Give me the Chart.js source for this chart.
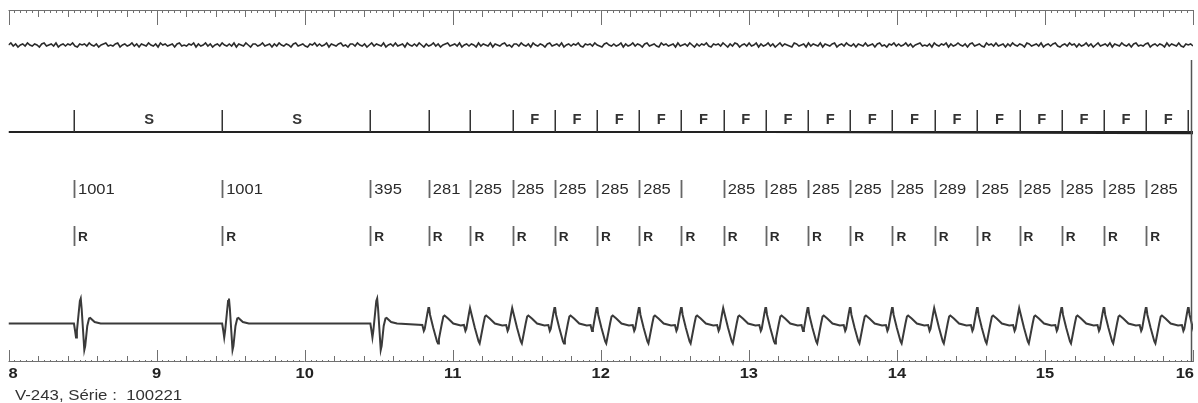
<!DOCTYPE html>
<html>
<head>
<meta charset="utf-8">
<script src="https://cdn.jsdelivr.net/npm/chart.js@4.4.1/dist/chart.umd.min.js"></script>
<style>
  html, body { margin: 0; padding: 0; background: #fff; }
  #wrap { width: 1198px; height: 403px; position: relative; }
</style>
</head>
<body>
<div id="wrap"><canvas id="ecg"></canvas></div>
<script>
// time axis (seconds)
const xTickValues = [8, 9, 10, 11, 12, 13, 14, 15, 16];
const xTickLabels = ['8', '9', '10', '11', '12', '13', '14', '15', '16'];

// first detected beat (s) and RR intervals to the next beat (ms)
const firstBeat = 8.442;
const rrIntervals = [1001, 1001, 395, 281, 285, 285, 285, 285, 285, 285, 285, 285, 285, 285, 285, 289, 285, 285, 285, 285, 285];
const rrLabels = ['1001', '1001', '395', '281', '285', '285', '285', '285', '285', '', '285', '285', '285', '285', '285', '289', '285', '285', '285', '285', '285'];
// event code written after each beat on the marker line
const eventCodes = ['S', 'S', '', '', '', 'F', 'F', 'F', 'F', 'F', 'F', 'F', 'F', 'F', 'F', 'F', 'F', 'F', 'F', 'F', 'F'];
// morphology of each beat (N = narrow, V = fast wide complex)
const beatShapes = ['N', 'N', 'N', 'V', 'V', 'V', 'V', 'V', 'V', 'V', 'V', 'V', 'V', 'V', 'V', 'V', 'V', 'V', 'V', 'V', 'V', 'V'];

// complex shapes: [ms from beat mark, mV]
const narrowComplex = [[-20, 0], [0, 0], [8, -0.3], [14, -0.56], [20, -0.3], [40, 0.9], [46, 1.0], [52, 0.6], [70, -1.06], [76, -0.9], [90, -0.1], [102, 0.2], [110, 0.22], [140, 0.06], [180, 0]];
const wideComplex = [[-44, -0.06], [-34, -0.3], [-28, -0.22], [-10, 0.4], [-3, 0.62], [2, 0.62], [8, 0.35], [30, -0.18], [55, -0.72], [62, -0.8], [68, -0.62], [88, 0.0], [98, 0.28], [106, 0.32], [130, 0.2], [165, 0.0], [215, -0.08]];

// top channel: low amplitude noise, sampled across the strip
const noiseTrace = [
  0, 2, -1, 1, -2, 0, 1, -1, 2, 0, -1, 1, 0, -2, 1, 2, -1, 0, 1, -1,
  2, -2, 0, 1, -1, 1, 0, 2, -1, -2, 1, 0, 1, -1, 2, 0, -1, 1, -2, 0,
  1, 2, -1, 0, -1, 1, 2, -2, 0, 1, -1, 0, 2, -1, 1, -2, 1, 0, -1, 2,
  0, -1, 1, -2, 2, 0, 1, -1, 0, 1, -2, 1, 2, -1, 0, -1, 1, 0, 2, -2,
  1, -1, 0, 2, -1, 1, -2, 0, 1, -1, 2, 0, -1, 1, -1, 2, -2, 1, 0, -1,
  2, 0, -2, 1, 1, -1, 0, 2, -1, 0, 1, -2, 1, -1, 2, 0, -1, 1, 0, -2,
  1, 2, -1, 0, 1, -1, -2, 1, 0, 2, -1, 1, -1, 0, 2, -2, 1, 0, -1, 1,
  2, -1, 0, -2, 1, 1, -1, 2, 0, -1, 1, -2, 0, 2, -1, 1, 0, -1, 2, -2,
  0, 1, -1, 2, -1, 0, 1, -2, 2, 0, -1, 1, -1, 2, 0, -2, 1, -1, 0, 2,
  -1, 1, -2, 0, 1, 2, -1, 0, 1, -1, 2, -2, 0, 1, -1, 1, 0, -2, 2, -1,
  1, 0, -1, 2, -2, 1, 0, -1, 1, 2, -1, 0, -2, 1, 1, -1, 2, 0, -1, 1,
  -2, 2, 0, -1, 1, 0, -2, 1, 2, -1, 0, 1, -1, 2, -2, 0, 1, -1, 1, 0,
  2, -1, -2, 1, 0, 1, -1, 2, 0, -1, -2, 1, 2, 0, -1, 1, -1, 0, 2, -2,
  1, -1, 0, 2, -1, 1, 0, -2, 1, 2, -1, 0, 1, -1, -2, 2, 0, 1, -1, 0,
  1, -2, 2, -1, 0, 1, -1, 2, 0, -2, 1, -1, 1, 0, 2, -1, -2, 1, 0, 1,
  -1, 2, 0, -2, 1, -1, 2, 1, -2, 0, 1, -1, 2, -1, 0, 2, -2, 1, -1, 0,
  2, -1, 1, -2, 0, 2, -1, 1, 0, -1, -2, 2, 1, -1, 0, 1, -2, 2, -1, 1,
  0, -1, 2, -2, 1, 0, -1, 1, 2, -2, 0, 1, -1, 2, 0, -1, 1, -2, 1, 0,
  -1, 2, -1, 0, 1, -2, 1, 2, -1, 0, -2, 1, 0, 2, -1, 1, -1, 0, 2, -1,
  1, -2, 0, 1, 2, -1, 0, -1, 1, -2, 2, 0, -1, 1, 0, 2, -2, 1, -1, 0,
  2, 0, -1, 1, -2, 1, 2, -1, 0, 1, -1, -2, 2, 0, 1, -1, 2, -1, 0, 1,
  -2, 1, -1, 2, 0, -1, 1, 0, -2, 2, 1, -1, 0, 1, -1, 2, -2, 0, 1, -1,
  1, 2, -1, -2, 0, 1, -1, 2, 0, 1, -2, 1, -1, 0, 2, -1, 1, -2, 0, 2,
  -1, 0, 1, -1, 2, -2, 1, 0, -1, 2, 0, -1, 1, -2, 1, 2, -1, 0, -1, 1,
  2, -2, 0, 1, -1, 1, 0, -2, 2, -1, 1, 0, -1, 2, -1, -2, 1, 0, 1, -1
];

// marker line level (0) and its slight drop at the end of the strip
const markerLine = [[8, 0], [16, 0]];
const markerLineTail = [[12.545, 0], [16, -1.5]];

// beat times from the intervals
const beatTimes = [firstBeat];
rrIntervals.forEach(ms => beatTimes.push(beatTimes[beatTimes.length - 1] + ms / 1000));

// build ECG points from the beat marks and complex shapes
function buildEcg() {
  const pts = [{ x: 8, y: 0 }];
  beatTimes.forEach((t, i) => {
    const shape = beatShapes[i] === 'N' ? narrowComplex : wideComplex;
    shape.forEach(p => pts.push({ x: t + p[0] / 1000, y: p[1] }));
  });
  return pts;
}

function buildNoise() {
  const step = 8 / (noiseTrace.length - 1);
  return noiseTrace.map((v, i) => ({ x: 8 + i * step, y: v }));
}

// draws rulers, marks and labels using the chart's x scale
function stretchText(ctx, text, x, y, align, sx) {
  ctx.save();
  ctx.translate(x, y);
  ctx.scale(sx, 1);
  ctx.textAlign = align;
  ctx.fillText(text, 0, 0);
  ctx.restore();
}

const holterMarks = {
  id: 'holterMarks',
  afterDatasetsDraw(chart) {
    const ctx = chart.ctx;
    const xs = chart.scales.x;
    const area = chart.chartArea;
    const px = t => xs.getPixelForValue(t);

    ctx.save();
    ctx.lineCap = 'butt';

    // rulers (top and bottom), 40 ms steps
    ctx.strokeStyle = '#707070';
    ctx.lineWidth = 1;
    ctx.beginPath();
    ctx.moveTo(area.left, 10.5); ctx.lineTo(area.right, 10.5);
    ctx.moveTo(area.left, 361.5); ctx.lineTo(area.right, 361.5);
    for (let i = 0; i <= 200; i++) {
      const x = Math.round(px(8 + i * 0.04)) + 0.5;
      const major = i % 25 === 0;
      const mid = i % 5 === 0;
      const topLen = major ? 15 : (mid ? 7 : 3);
      const botLen = major ? 12 : (mid ? 6 : 2);
      ctx.moveTo(x, 10); ctx.lineTo(x, 10 + topLen);
      ctx.moveTo(x, 362); ctx.lineTo(x, 362 - botLen);
    }
    ctx.stroke();

    // right border
    ctx.strokeStyle = '#555';
    ctx.lineWidth = 1.5;
    ctx.beginPath();
    ctx.moveTo(area.right - 1.5, 60); ctx.lineTo(area.right - 1.5, 362);
    ctx.stroke();

    // axis labels
    ctx.fillStyle = '#222';
    ctx.font = 'bold 15px "Liberation Sans", Arial, sans-serif';
    ctx.textBaseline = 'middle';
    xTickValues.forEach((v, i) => {
      let align = 'center';
      let x = px(v);
      if (i === 0) align = 'left';
      if (i === xTickValues.length - 1) { align = 'right'; x = x + 1; }
      stretchText(ctx, xTickLabels[i], x, 374, align, 1.1);
    });

    // caption
    ctx.fillStyle = '#333';
    ctx.font = '14px "Liberation Sans", Arial, sans-serif';
    ctx.textBaseline = 'alphabetic';
    stretchText(ctx, 'V-243, Série :  100221', 15, 400, 'left', 1.2);

    // marker line ticks and event codes
    ctx.strokeStyle = '#333';
    ctx.lineWidth = 1.5;
    ctx.beginPath();
    beatTimes.forEach(t => {
      const x = Math.round(px(t)) + 0.25;
      ctx.moveTo(x, 110); ctx.lineTo(x, 132);
    });
    ctx.stroke();
    ctx.fillStyle = '#333';
    ctx.font = 'bold 14px "Liberation Sans", Arial, sans-serif';
    ctx.textBaseline = 'middle';
    eventCodes.forEach((c, i) => {
      if (!c) return;
      const mid = (px(beatTimes[i]) + px(beatTimes[i + 1])) / 2;
      stretchText(ctx, c, mid + 1, 120, 'center', 1.05);
    });

    // RR interval row
    ctx.strokeStyle = '#666';
    ctx.lineWidth = 1.8;
    ctx.beginPath();
    rrLabels.forEach((lab, i) => {
      const x = Math.round(px(beatTimes[i])) + 0.5;
      ctx.moveTo(x, 180); ctx.lineTo(x, 198);
    });
    ctx.stroke();
    ctx.fillStyle = '#2a2a2a';
    ctx.font = '14px "Liberation Sans", Arial, sans-serif';
    rrLabels.forEach((lab, i) => {
      if (!lab) return;
      stretchText(ctx, lab, px(beatTimes[i]) + 4, 190, 'left', 1.18);
    });

    // R detection row
    ctx.strokeStyle = '#666';
    ctx.beginPath();
    rrLabels.forEach((lab, i) => {
      const x = Math.round(px(beatTimes[i])) + 0.5;
      ctx.moveTo(x, 226); ctx.lineTo(x, 246);
    });
    ctx.stroke();
    ctx.fillStyle = '#2a2a2a';
    ctx.font = 'bold 13px "Liberation Sans", Arial, sans-serif';
    rrLabels.forEach((lab, i) => {
      stretchText(ctx, 'R', px(beatTimes[i]) + 4, 237, 'left', 1.05);
    });

    ctx.restore();
  }
};

new Chart(document.getElementById('ecg'), {
  type: 'line',
  data: {
    datasets: [
      {
        label: 'ECG',
        data: buildEcg(),
        yAxisID: 'yEcg',
        borderColor: '#3a3a3a',
        borderWidth: 2,
        pointRadius: 0,
        tension: 0
      },
      {
        label: 'Channel 1',
        data: buildNoise(),
        yAxisID: 'yNoise',
        borderColor: '#2b2b2b',
        borderWidth: 1.6,
        pointRadius: 0,
        tension: 0
      },
      {
        label: 'Markers',
        data: markerLine.map(p => ({ x: p[0], y: p[1] })),
        yAxisID: 'yMark',
        borderColor: '#222',
        borderWidth: 2,
        pointRadius: 0
      },
      {
        label: 'Markers tail',
        data: markerLineTail.map(p => ({ x: p[0], y: p[1] })),
        yAxisID: 'yMark',
        borderColor: '#222',
        borderWidth: 1.6,
        pointRadius: 0
      }
    ]
  },
  options: {
    responsive: true,
    maintainAspectRatio: false,
    animation: false,
    devicePixelRatio: 1,
    layout: { padding: { left: 8.5, right: 5, top: 0, bottom: 42 } },
    plugins: {
      legend: { display: false },
      tooltip: { enabled: false },
      title: { display: false }
    },
    scales: {
      x: { type: 'linear', min: 8, max: 16, display: false },
      yEcg: { type: 'linear', min: -1.5, max: 12.94, display: false },
      yNoise: { type: 'linear', min: -316, max: 45, display: false },
      yMark: { type: 'linear', min: -229, max: 132, display: false }
    }
  },
  plugins: [holterMarks]
});
</script>
</body>
</html>
